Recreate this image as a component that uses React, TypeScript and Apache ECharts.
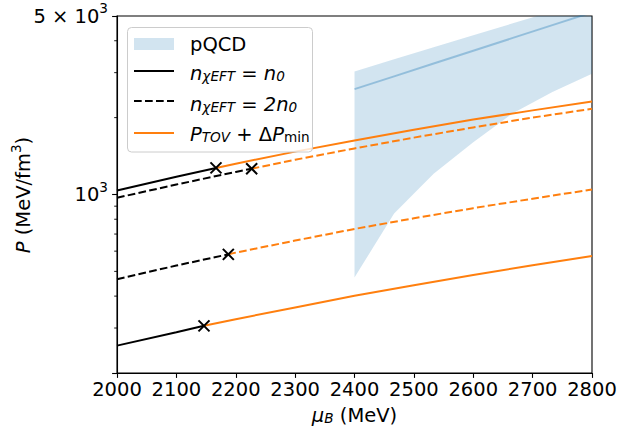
import { useEffect, useRef } from 'react';
import * as echarts from 'echarts';

// ---- data ----
const muGrid = [2000, 2100, 2200, 2300, 2400, 2500, 2600, 2700, 2800];
const pLowerSolid = [256, 289, 325, 361, 401, 441, 484, 528, 574];
const pLowerDashed = [466, 527, 592, 660, 733, 807, 884, 963, 1046];
const pUpperDashed = [971, 1094, 1226, 1368, 1515, 1670, 1831, 2001, 2167];
const pUpperSolid = [1036, 1174, 1320, 1472, 1628, 1794, 1965, 2135, 2313];

const crossLowerSolid = [2146.5, 306];
const crossLowerDashed = [2187.5, 583];
const crossUpperDashed = [2226.8, 1262];
const crossUpperSolid = [2166.7, 1271];

const bandMu = [2400, 2466.7, 2533.3, 2600, 2666.7, 2733.3, 2800];
const bandLow = [473, 843, 1205, 1600, 2080, 2520, 2968];
const bandHigh = [3030, 3384, 3770, 4200, 4679, 5212, 5795];
const bandMid = [2586, 2902, 3258, 3656, 4104, 4606, 5168];

const xTicks = { min: 2000, max: 2800, step: 100 };
const yRange = { min: 200, max: 5000 };
const minorTickValues = [300, 400, 500, 600, 700, 800, 900, 2000, 3000, 4000];

const legendLabels = ['pQCD', 'n_χEFT = n_0', 'n_χEFT = 2n_0', 'P_TOV + ΔP_min'];

// ---- styles ----
const FF = 'DejaVu Sans';
const FS = 19.5;
const SS = 13.6;
const ORANGE = '#ff7f0e';
const BLUE = '#1f77b4';
const DASH = [7.7, 3.3];
const LW = 2;

function split(values: number[], cross: number[]) {
  const black: number[][] = [];
  const orange: number[][] = [];
  muGrid.forEach((m, i) => {
    if (m < cross[0]) black.push([m, values[i]]);
  });
  black.push(cross);
  orange.push(cross);
  muGrid.forEach((m, i) => {
    if (m > cross[0]) orange.push([m, values[i]]);
  });
  return { black, orange };
}

function lineSeries(data: number[][], color: string, dashed: boolean) {
  return {
    type: 'line',
    data,
    showSymbol: false,
    symbol: 'none',
    clip: true,
    z: 3,
    silent: true,
    lineStyle: { color, width: LW, type: dashed ? DASH : 'solid' },
  };
}

export default function App() {
  const ref = useRef<HTMLDivElement>(null);
  useEffect(() => {
    const chart = echarts.init(ref.current!, null, { renderer: 'svg' });

    const ls = split(pLowerSolid, crossLowerSolid);
    const ld = split(pLowerDashed, crossLowerDashed);
    const ud = split(pUpperDashed, crossUpperDashed);
    const us = split(pUpperSolid, crossUpperSolid);

    const richMath = {
      m: { fontSize: FS, fontFamily: FF, lineHeight: 20, fill: '#000' },
      i: { fontSize: FS, fontFamily: FF, fontStyle: 'italic', lineHeight: 20, fill: '#000' },
      s: { fontSize: SS, fontFamily: FF, fontStyle: 'italic', lineHeight: 11, verticalAlign: 'bottom', fill: '#000' },
      r: { fontSize: SS, fontFamily: FF, lineHeight: 11, verticalAlign: 'bottom', fill: '#000' },
    };
    const richSup = {
      m: { fontSize: FS, fontFamily: FF, lineHeight: 30, fill: '#000' },
      i: { fontSize: FS, fontFamily: FF, fontStyle: 'italic', lineHeight: 30, fill: '#000' },
      p: { fontSize: SS, fontFamily: FF, lineHeight: 13, verticalAlign: 'top', fill: '#000' },
    };

    const legendX = 134;
    const textX = 190;
    const rowsY = [44, 73, 104, 134];

    const option: any = {
      animation: false,
      backgroundColor: '#fff',
      grid: {
        left: 117, right: 26, top: 16, bottom: 53,
        containLabel: false, outerBoundsMode: 'none',
        show: true, borderColor: '#000', borderWidth: 1.1, backgroundColor: 'transparent',
      },
      xAxis: {
        type: 'value',
        min: xTicks.min,
        max: xTicks.max,
        interval: xTicks.step,
        splitLine: { show: false },
        axisLine: { show: true, onZero: false, lineStyle: { color: '#000', width: 1.1 } },
        axisTick: { show: true, length: 4.9, lineStyle: { color: '#000', width: 1.1 } },
        axisLabel: { fontSize: FS, fontFamily: FF, color: '#000', margin: 6, formatter: (v: number) => String(v) },
      },
      yAxis: {
        type: 'log',
        logBase: 10,
        min: yRange.min,
        max: yRange.max,
        splitLine: { show: false },
        minorTick: { show: false },
        axisLine: { show: true, onZero: false, lineStyle: { color: '#000', width: 1.1 } },
        axisTick: { show: true, length: 4.9, lineStyle: { color: '#000', width: 1.1 } },
        axisLabel: {
          margin: 9,
          showMinLabel: true,
          showMaxLabel: true,
          hideOverlap: false,
          formatter: (v: number) => {
            const r = Math.round(v);
            if (r === 1000) return '{m|10}{p|3}';
            if (r === 5000) return '{m|5 × 10}{p|3}';
            return '';
          },
          rich: {
            m: { fontSize: FS, fontFamily: FF, lineHeight: 30, color: '#000' },
            p: { fontSize: SS, fontFamily: FF, lineHeight: 13, verticalAlign: 'top', color: '#000' },
          },
        },
      },
      series: [
        {
          type: 'custom',
          clip: true,
          silent: true,
          z: 1,
          data: [[bandMu[0], bandLow[0]]],
          renderItem: (_p: any, api: any) => {
            const pts: number[][] = [];
            bandMu.forEach((m, i) => pts.push(api.coord([m, bandHigh[i]])));
            for (let i = bandMu.length - 1; i >= 0; i--) pts.push(api.coord([bandMu[i], bandLow[i]]));
            return { type: 'polygon', shape: { points: pts }, style: { fill: 'rgba(31,119,180,0.2)' } };
          },
        },
        {
          type: 'line',
          data: bandMu.map((m, i) => [m, bandMid[i]]),
          showSymbol: false,
          symbol: 'none',
          clip: true,
          z: 2,
          silent: true,
          lineStyle: { color: BLUE, opacity: 0.35, width: LW },
        },
        lineSeries(ls.black, '#000', false),
        lineSeries(ls.orange, ORANGE, false),
        lineSeries(ld.black, '#000', true),
        lineSeries(ld.orange, ORANGE, true),
        lineSeries(ud.black, '#000', true),
        lineSeries(ud.orange, ORANGE, true),
        lineSeries(us.black, '#000', false),
        lineSeries(us.orange, ORANGE, false),
        {
          type: 'custom',
          silent: true,
          z: 5,
          clip: false,
          data: [crossLowerSolid, crossLowerDashed, crossUpperDashed, crossUpperSolid],
          renderItem: (_p: any, api: any) => {
            const c = api.coord([api.value(0), api.value(1)]);
            const h = 5.5;
            const st = { stroke: '#000', lineWidth: 2 };
            return {
              type: 'group',
              children: [
                { type: 'line', shape: { x1: c[0] - h, y1: c[1] - h, x2: c[0] + h, y2: c[1] + h }, style: st },
                { type: 'line', shape: { x1: c[0] - h, y1: c[1] + h, x2: c[0] + h, y2: c[1] - h }, style: st },
              ],
            };
          },
        },
        {
          type: 'custom',
          silent: true,
          z: 5,
          clip: false,
          data: minorTickValues.map((v) => [xTicks.min, v]),
          renderItem: (_p: any, api: any) => {
            const c = api.coord([api.value(0), api.value(1)]);
            return { type: 'line', shape: { x1: c[0] - 2.8, y1: c[1], x2: c[0], y2: c[1] }, style: { stroke: '#000', lineWidth: 0.9 } };
          },
        },
      ],
      graphic: [
        // axis titles
        {
          type: 'text', z: 12, x: 354.5, y: 415,
          style: { text: '{i|μ}{s|B}{m| (MeV)}', rich: richMath, fontSize: FS, fontFamily: FF, fill: '#000', verticalAlign: 'middle', align: 'center' },
        },
        {
          type: 'text', z: 12, x: 23.5, y: 195, rotation: Math.PI / 2,
          style: { text: '{i|P}{m| (MeV/fm}{p|3}{m|)}', rich: richSup, fontSize: FS, fontFamily: FF, fill: '#000', verticalAlign: 'middle', align: 'center' },
        },
        // legend
        {
          type: 'rect', z: 10,
          shape: { x: 127.5, y: 27.5, width: 185, height: 124.5, r: 4 },
          style: { fill: 'rgba(255,255,255,0.8)', stroke: '#cccccc', lineWidth: 1 },
        },
        {
          type: 'rect', z: 11,
          shape: { x: legendX, y: 38, width: 40, height: 12 },
          style: { fill: 'rgba(31,119,180,0.2)' },
        },
        { type: 'line', z: 11, shape: { x1: legendX, y1: 71, x2: legendX + 40, y2: 71 }, style: { stroke: '#000', lineWidth: LW } },
        { type: 'line', z: 11, shape: { x1: legendX, y1: 101, x2: legendX + 40, y2: 101 }, style: { stroke: '#000', lineWidth: LW, lineDash: DASH } },
        { type: 'line', z: 11, shape: { x1: legendX, y1: 133, x2: legendX + 40, y2: 133 }, style: { stroke: ORANGE, lineWidth: LW } },
        {
          type: 'text', z: 12, x: textX, y: rowsY[0],
          style: { text: legendLabels[0], fontSize: FS, fontFamily: FF, fill: '#000', verticalAlign: 'middle', align: 'left' },
        },
        {
          type: 'text', z: 12, x: textX, y: rowsY[1],
          style: { text: '{i|n}{s|χEFT}{m| = }{i|n}{s|0}', rich: richMath, fontSize: FS, fontFamily: FF, fill: '#000', verticalAlign: 'middle', align: 'left' },
        },
        {
          type: 'text', z: 12, x: textX, y: rowsY[2],
          style: { text: '{i|n}{s|χEFT}{m| = }{i|2n}{s|0}', rich: richMath, fontSize: FS, fontFamily: FF, fill: '#000', verticalAlign: 'middle', align: 'left' },
        },
        {
          type: 'text', z: 12, x: textX, y: rowsY[3],
          style: { text: '{i|P}{s|TOV}{m| + Δ}{i|P}{r|min}', rich: richMath, fontSize: FS, fontFamily: FF, fill: '#000', verticalAlign: 'middle', align: 'left' },
        },
      ],
    };

    chart.setOption(option);
    return () => chart.dispose();
  }, []);
  return (
    <div
      ref={ref}
      style={{ position: 'fixed', left: 0, top: 0, width: 618, height: 426, background: '#fff' }}
    />
  );
}
